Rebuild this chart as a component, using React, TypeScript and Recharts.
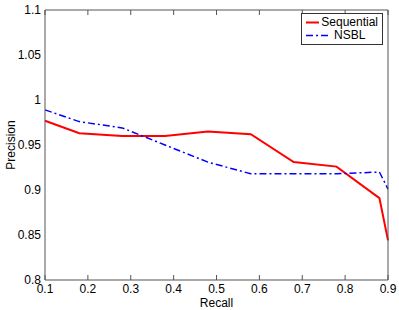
import { LineChart, Line, XAxis, YAxis, Legend } from "recharts";

const recall = [0.1, 0.18, 0.28, 0.38, 0.48, 0.58, 0.68, 0.78, 0.88, 0.9];
const sequential = [0.977, 0.963, 0.96, 0.96, 0.965, 0.962, 0.931, 0.926, 0.891, 0.844];
const nsbl = [0.989, 0.976, 0.969, 0.95, 0.931, 0.918, 0.918, 0.918, 0.92, 0.901];
const seriesNames = ["Sequential", "NSBL"];

const xTicks = [0.1, 0.2, 0.3, 0.4, 0.5, 0.6, 0.7, 0.8, 0.9];
const yTicks = [0.8, 0.85, 0.9, 0.95, 1, 1.05, 1.1];

const data = recall.map((r, i) => ({ recall: r, seq: sequential[i], nsbl: nsbl[i] }));

const FONT = "'Liberation Sans', Arial, sans-serif";
const AXIS = "#555";
const DASH = "7 3 2 3";

const LegendBox = ({ payload }: { payload?: any[] }) => {
  const items = [...(payload || [])].sort(
    (a, b) => seriesNames.indexOf(a.value) - seriesNames.indexOf(b.value)
  );
  return (
    <div
      style={{
        border: "1px solid #333",
        background: "white",
        padding: "2px 4px",
        fontFamily: FONT,
        fontSize: 12,
        color: "#000",
        lineHeight: "13px",
      }}
    >
      {items.map((p) => (
        <div key={p.value} style={{ display: "flex", alignItems: "center" }}>
          <svg width={26} height={13}>
            <line
              x1={0}
              x2={25}
              y1={6.5}
              y2={6.5}
              stroke={p.color}
              strokeWidth={p.value === "NSBL" ? 1.5 : 2}
              strokeDasharray={p.value === "NSBL" ? DASH : undefined}
            />
          </svg>
          <span style={{ marginLeft: 2 }}>{p.value}</span>
        </div>
      ))}
    </div>
  );
};

export default function App() {
  return (
    <div style={{ position: "absolute", left: 0, top: 0, background: "white" }}>
      <LineChart
        width={399}
        height={310}
        data={data}
        margin={{ top: 10, right: 11, left: 0, bottom: 0 }}
      >
        <XAxis
          xAxisId="main"
          dataKey="recall"
          type="number"
          domain={[0.1, 0.9]}
          ticks={xTicks}
          height={30}
          tickLine={false}
          tickSize={0}
          tickMargin={4}
          stroke={AXIS}
          tick={{ fill: "#000", fontSize: 12, fontFamily: FONT }}
          label={{ value: "Recall", position: "insideBottom", offset: 3, fill: "#000", fontSize: 12, fontFamily: FONT }}
        />
        <XAxis
          xAxisId="btm"
          dataKey="recall"
          type="number"
          domain={[0.1, 0.9]}
          ticks={xTicks}
          mirror
          tickSize={5}
          tickFormatter={() => ""}
          stroke={AXIS}
          axisLine={false}
        />
        <XAxis
          xAxisId="top"
          orientation="top"
          dataKey="recall"
          type="number"
          domain={[0.1, 0.9]}
          ticks={xTicks}
          mirror
          tickSize={5}
          tickFormatter={() => ""}
          stroke={AXIS}
        />
        <YAxis
          yAxisId="main"
          type="number"
          domain={[0.8, 1.1]}
          ticks={yTicks}
          width={45}
          tickLine={false}
          tickSize={0}
          tickMargin={4}
          stroke={AXIS}
          tick={{ fill: "#000", fontSize: 12, fontFamily: FONT }}
          label={{
            value: "Precision",
            content: () => (
              <text
                x={15}
                y={145}
                transform="rotate(-90 15 145)"
                textAnchor="middle"
                fontSize={12}
                fontFamily={FONT}
                fill="#000"
              >
                Precision
              </text>
            ),
          }}
        />
        <YAxis
          yAxisId="lft"
          type="number"
          domain={[0.8, 1.1]}
          ticks={yTicks}
          mirror
          tickSize={5}
          tickFormatter={() => ""}
          stroke={AXIS}
          axisLine={false}
        />
        <YAxis
          yAxisId="rgt"
          orientation="right"
          type="number"
          domain={[0.8, 1.1]}
          ticks={yTicks}
          mirror
          tickSize={5}
          tickFormatter={() => ""}
          stroke={AXIS}
        />
        <Legend
          layout="vertical"
          align="center"
          verticalAlign="middle"
          content={<LegendBox />}
          wrapperStyle={{ top: 13, left: 301, width: 82 }}
        />
        <Line
          xAxisId="main"
          yAxisId="main"
          name="Sequential"
          dataKey="seq"
          stroke="#ff0000"
          strokeWidth={2}
          dot={false}
          isAnimationActive={false}
        />
        <Line
          xAxisId="main"
          yAxisId="main"
          name="NSBL"
          dataKey="nsbl"
          stroke="#0000ff"
          strokeWidth={1.5}
          strokeDasharray={DASH}
          dot={false}
          isAnimationActive={false}
        />
      </LineChart>
    </div>
  );
}
